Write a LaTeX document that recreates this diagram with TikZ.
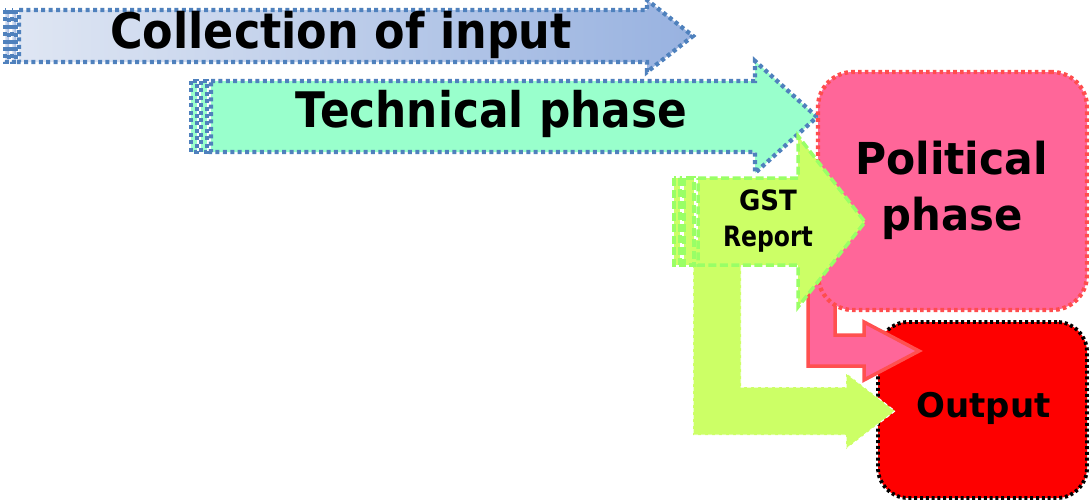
\documentclass[tikz,border=0pt]{standalone}
\usepackage{fontspec}
\usepackage{graphicx}
\setmainfont{DejaVu Sans}
\definecolor{borderblue}{HTML}{4F81BD}
\definecolor{collL}{HTML}{DFE6F3}
\definecolor{collR}{HTML}{98B2E0}
\definecolor{techfill}{HTML}{99FFCC}
\definecolor{polfill}{HTML}{FF6699}
\definecolor{polborder}{HTML}{FF4D4D}
\definecolor{outfill}{HTML}{FE0000}
\definecolor{gstfill}{HTML}{CCFF66}
\definecolor{gstborder}{HTML}{99FF66}
\definecolor{pinkborder}{HTML}{FF5050}
\tikzset{
  bluedot/.style={draw=borderblue, line width=4.3pt, dash pattern=on 4pt off 3.4pt},
  techarrow/.style={bluedot, fill=techfill},
  collarrow/.style={bluedot, left color=collL, right color=collR},
  gstarrow/.style={draw=gstborder, fill=gstfill, line width=3.5pt, dash pattern=on 8pt off 3.5pt},
  larrow/.style={draw=white, fill=gstfill, line width=1pt, dash pattern=on 4pt off 3pt},
  pinkarrow/.style={draw=pinkborder, fill=polfill, line width=3.5pt, line join=miter},
  polbox/.style={draw=polborder, fill=polfill, line width=4.3pt, dash pattern=on 3.6pt off 3.2pt, rounded corners=35pt, inner sep=0pt},
  outbox/.style={draw=black, fill=outfill, line width=3.8pt, dash pattern=on 3pt off 2.8pt, rounded corners=30pt, inner sep=0pt},
  lbl/.style={inner sep=0pt, anchor=base, text=black}
}
\newcommand{\lbltext}[3]{\scalebox{#2}[1]{\fontsize{#1}{#1}\selectfont\bfseries #3}}
\begin{document}
\begin{tikzpicture}[x=1pt, y=-1pt]
\useasboundingbox (0,0) rectangle (1089,501);
\clip (0,0) rectangle (1089,501);
% Collection of input (striped arrow)
\draw[collarrow] (5,10) rectangle (9,62);
\draw[collarrow] (12,10) rectangle (16,62);
\draw[collarrow] (19,10) -- (647,10) -- (647,0) -- (693,36) -- (647,72) -- (647,62) -- (19,62) -- cycle;
\node[lbl] (coll) at (341,48) {\lbltext{49}{0.908}{Collection of input}};
% Technical phase
\draw[techarrow] (191,81) rectangle (197,152);
\draw[techarrow] (201,81) rectangle (207,152);
\draw[techarrow] (211,81) -- (755,81) -- (755,61) -- (817,117) -- (755,173) -- (755,152) -- (211,152) -- cycle;
\node[lbl] (tech) at (491.5,127) {\lbltext{49}{0.895}{Technical phase}};
% Output box
\node[outbox, minimum width=209pt, minimum height=176pt] (out) at (982.5,410) {};
% pink arrow political -> output
\draw[pinkarrow] (808,250) -- (808,366) -- (864,366) -- (864,380) -- (919,351) -- (864,322) -- (864,335) -- (835,335) -- (835,250) -- cycle;
% Political box
\node[polbox, minimum width=269pt, minimum height=238pt] (pol) at (952.5,191) {};
% L-shaped arrow GST -> output
\draw[larrow] (693,240) -- (693,435) -- (846,435) -- (846,449) -- (895,411) -- (846,373) -- (846,387) -- (741,387) -- (741,240) -- cycle;
% GST Report striped arrow
\draw[gstarrow] (674,178) rectangle (680,265);
\draw[gstarrow] (684,178) rectangle (694,265);
\draw[gstarrow] (698,178) -- (798,178) -- (798,136) -- (865,222) -- (798,307) -- (798,265) -- (698,265) -- cycle;
% Texts
\node[lbl] (gst) at (768,210) {\lbltext{28}{0.93}{GST}};
\node[lbl] (rep) at (768,246) {\lbltext{28}{0.84}{Report}};
\node[lbl] (pol1) at (951.5,174) {\lbltext{44}{0.966}{Political}};
\node[lbl] (pol2) at (952,230) {\lbltext{44}{0.95}{phase}};
\node[lbl] (outt) at (983.5,417) {\lbltext{34}{1.0}{Output}};
\end{tikzpicture}
\end{document}
